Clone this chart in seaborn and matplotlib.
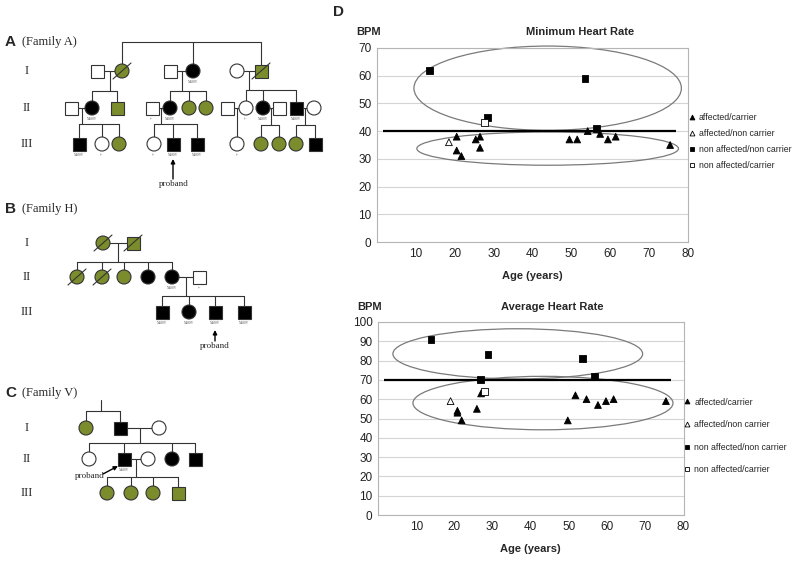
import numpy as np
import pandas as pd
import matplotlib
matplotlib.use("Agg")
import matplotlib.pyplot as plt
import seaborn as sns
from matplotlib.patches import Ellipse, Rectangle, Circle
from matplotlib.lines import Line2D

# ---------------------------
# HEART RATE DATA (panel D)
# ---------------------------
groups = ["affected/carrier", "affected/non carrier",
          "non affected/non carrier", "non affected/carrier"]

min_age_ac = [20.5, 20.5, 21.7, 25.4, 26.5, 26.5, 49.5, 51.5, 54.2, 57.4, 59.4, 61.4, 75.4]
min_bpm_ac = [38, 33, 31, 37, 38, 34, 37, 37, 40, 39, 37, 38, 35]
min_age_anc = [18.5]
min_bpm_anc = [36]
min_age_nanc = [13.5, 28.5, 53.5, 56.5]
min_bpm_nanc = [62, 45, 59, 41]
min_age_nac = [27.6]
min_bpm_nac = [43]

avg_age_ac = [27, 20.8, 20.8, 21.9, 25.9, 49.7, 51.7, 54.6, 57.6, 59.7, 61.7, 75.4]
avg_bpm_ac = [63, 54, 53, 49, 55, 49, 62, 60, 57, 59, 60, 59]
avg_age_anc = [19]
avg_bpm_anc = [59]
avg_age_nanc = [13.9, 28.8, 53.6, 56.6, 26.8]
avg_bpm_nanc = [91, 83, 81, 72, 70]
avg_age_nac = [27.9]
avg_bpm_nac = [64]

min_threshold = 40
avg_threshold = 70
# ellipses (center x, center y, width, height) in data units
min_ellipses = [(43.9, 55.5, 68.8, 30.4), (43.9, 33.7, 67.3, 12.0)]
avg_ellipses = [(36.6, 83.5, 65.4, 26.0), (43.2, 58.0, 68.1, 27.7)]

# ---------------------------
# PEDIGREES (panels A-C)
# person: (x, generation, sex, status, deceased, tag)
# status: n = unaffected, a = affected (black), g = green
# ---------------------------
fam_a_gen_y = {1: 71, 2: 108, 3: 144}
fam_a = {
    "I1": (97, 1, "m", "n", 0, ""), "I2": (122, 1, "f", "g", 1, ""),
    "I3": (170, 1, "m", "n", 0, ""), "I4": (193, 1, "f", "a", 0, "v"),
    "I5": (237, 1, "f", "n", 0, ""), "I6": (261, 1, "m", "g", 1, ""),
    "II1": (71, 2, "m", "n", 0, ""), "II2": (92, 2, "f", "a", 0, "v"),
    "II3": (117, 2, "m", "g", 0, ""), "II4": (152, 2, "m", "n", 0, "-"),
    "II5": (170, 2, "f", "a", 0, "v"), "II6": (189, 2, "f", "g", 0, ""),
    "II7": (206, 2, "f", "g", 0, ""), "II8": (227, 2, "m", "n", 0, ""),
    "II9": (246, 2, "f", "n", 0, "-"), "II10": (263, 2, "f", "a", 0, "v"),
    "II11": (279, 2, "m", "n", 0, ""), "II12": (296, 2, "m", "a", 0, "v"),
    "II13": (314, 2, "f", "n", 0, ""),
    "III1": (79, 3, "m", "a", 0, "v"), "III2": (102, 3, "f", "n", 0, "-"),
    "III3": (119, 3, "f", "g", 0, ""), "III4": (154, 3, "f", "n", 0, "-"),
    "III5": (173, 3, "m", "a", 0, "v"), "III6": (197, 3, "m", "a", 0, "v"),
    "III7": (237, 3, "f", "n", 0, "-"), "III8": (261, 3, "f", "g", 0, ""),
    "III9": (279, 3, "f", "g", 0, ""), "III10": (296, 3, "f", "g", 0, ""),
    "III11": (315, 3, "m", "a", 0, ""),
}
fam_a_marriages = [("I1", "I2"), ("I3", "I4"), ("I5", "I6"), ("II1", "II2"),
                   ("II4", "II5"), ("II8", "II9"), ("II10", "II11"), ("II12", "II13")]
fam_a_sibs = [
    (None, 42, ["I2", "I4", "I6"]),
    (("I1", "I2"), 91, ["II2", "II3"]),
    (("I3", "I4"), 91, ["II5", "II6", "II7"]),
    (("I5", "I6"), 90, ["II9", "II10", "II12"]),
    (("II1", "II2"), 124, ["III1", "III2", "III3"]),
    (("II4", "II5"), 124, ["III4", "III5", "III6"]),
    (("II8", "II9"), 124, ["III7"]),
    (("II10", "II11"), 125, ["III8", "III9"]),
    (("II12", "II13"), 125, ["III10", "III11"]),
]

fam_b_gen_y = {1: 243, 2: 277, 3: 312}
fam_b = {
    "I1": (103, 1, "f", "g", 1, ""), "I2": (133, 1, "m", "g", 1, ""),
    "II1": (77, 2, "f", "g", 1, ""), "II2": (102, 2, "f", "g", 1, ""),
    "II3": (124, 2, "f", "g", 0, ""), "II4": (148, 2, "f", "a", 0, ""),
    "II5": (172, 2, "f", "a", 0, "v"), "II6": (199, 2, "m", "n", 0, "-"),
    "III1": (162, 3, "m", "a", 0, "v"), "III2": (189, 3, "f", "a", 0, "v"),
    "III3": (215, 3, "m", "a", 0, "v"), "III4": (244, 3, "m", "a", 0, "v"),
}
fam_b_marriages = [("I1", "I2"), ("II5", "II6")]
fam_b_sibs = [
    (("I1", "I2"), 262, ["II1", "II2", "II3", "II4", "II5"]),
    (("II5", "II6"), 296, ["III1", "III2", "III3", "III4"]),
]

fam_c_gen_y = {1: 428, 2: 459, 3: 493}
fam_c = {
    "I1": (86, 1, "f", "g", 0, ""), "I2": (120, 1, "m", "a", 0, ""),
    "I3": (159, 1, "f", "n", 0, ""),
    "II1": (89, 2, "f", "n", 0, ""), "II2": (124, 2, "m", "a", 0, "v"),
    "II3": (148, 2, "f", "n", 0, ""), "II4": (172, 2, "f", "a", 0, ""),
    "II5": (195, 2, "m", "a", 0, ""),
    "III1": (107, 3, "f", "g", 0, ""), "III2": (131, 3, "f", "g", 0, ""),
    "III3": (153, 3, "f", "g", 0, ""), "III4": (178, 3, "m", "g", 0, ""),
}
fam_c_marriages = [("I2", "I3"), ("II2", "II3")]
fam_c_sibs = [
    ((101, 400), 411, ["I1", "I2"]),
    (("I2", "I3"), 443, ["II1", "II2", "II4", "II5"]),
    (("II2", "II3"), 477, ["III1", "III2", "III3", "III4"]),
]

families = [
    ("A", "(Family A)", 42, fam_a, fam_a_gen_y, fam_a_marriages, fam_a_sibs),
    ("B", "(Family H)", 209, fam_b, fam_b_gen_y, fam_b_marriages, fam_b_sibs),
    ("C", "(Family V)", 393, fam_c, fam_c_gen_y, fam_c_marriages, fam_c_sibs),
]
# proband arrows: text pos, arrow tail, arrow head
probands = [((174, 184), (173, 179), (173, 159)),
            ((215, 346), (215, 341), (215, 330)),
            ((90, 476), (103, 474), (118, 466))]

GREEN = "#7b8c2c"
LINE = "#333333"
fill_map = {"n": "white", "a": "black", "g": GREEN}
H = 6.5   # half size of symbols


# ---------------------------
# HELPERS
# ---------------------------
def draw_pedigree(ax, people, gen_y, marriages, sibs):
    def pos(pid):
        p = people[pid]
        return p[0], gen_y[p[1]]

    for a, b in marriages:
        (x1, y1), (x2, y2) = pos(a), pos(b)
        ax.plot([x1 + H, x2 - H], [y1, y1], color=LINE, lw=0.8, zorder=1)

    for parents, bar_y, kids in sibs:
        kx = [pos(k)[0] for k in kids]
        if parents is None:
            drop_x = None
        elif isinstance(parents[0], str):
            (x1, y1), (x2, _) = pos(parents[0]), pos(parents[1])
            drop_x = (x1 + x2) / 2
            ax.plot([drop_x, drop_x], [y1, bar_y], color=LINE, lw=0.8, zorder=1)
        else:
            drop_x = parents[0]
            ax.plot([drop_x, drop_x], [parents[1], bar_y], color=LINE, lw=0.8, zorder=1)
        xs = kx + ([drop_x] if drop_x is not None else [])
        ax.plot([min(xs), max(xs)], [bar_y, bar_y], color=LINE, lw=0.8, zorder=1)
        for k in kids:
            x, y = pos(k)
            ax.plot([x, x], [bar_y, y - H], color=LINE, lw=0.8, zorder=1)

    for pid, (x, g, sex, status, dead, tag) in people.items():
        y = gen_y[g]
        fc = fill_map[status]
        if sex == "m":
            ax.add_patch(Rectangle((x - H, y - H), 2 * H, 2 * H, facecolor=fc,
                                   edgecolor=LINE, lw=0.8, zorder=2))
        else:
            ax.add_patch(Circle((x, y), H + 0.5, facecolor=fc,
                                edgecolor=LINE, lw=0.8, zorder=2))
        if dead:
            ax.plot([x - 9, x + 9], [y + 8, y - 8], color=LINE, lw=0.8, zorder=3)
        if tag:
            ax.text(x, y + 11, "N480V" if tag == "v" else "-/-", fontsize=2.5,
                    color="#555555", ha="center", va="center",
                    family=["Liberation Serif", "DejaVu Serif"])


def hr_frame(ages, bpms):
    rows = []
    for grp, a, b in zip(groups, ages, bpms):
        rows += [{"group": grp, "age": x, "bpm": y} for x, y in zip(a, b)]
    return pd.DataFrame(rows)


def draw_hr(ax, df, ymax, threshold, ellipses, title, title_x, legend_y, legend_gap):
    ax.yaxis.grid(True, color="#d4d4d4", lw=0.8)
    ax.set_axisbelow(True)
    sns.scatterplot(data=df, x="age", y="bpm", hue="group", style="group",
                    markers=markers, palette=palette, hue_order=groups,
                    style_order=groups, edgecolor="black", linewidth=0.6,
                    s=24, legend=False, ax=ax, zorder=4)
    ax.hlines(threshold, 1.5, 76.8, color="black", lw=1.6, zorder=3, clip_on=False)
    for cx, cy, w, h in ellipses:
        ax.add_patch(Ellipse((cx, cy), w, h, fill=False, edgecolor="#7a7a7a",
                             lw=0.9, zorder=2, clip_on=False))
    ax.set_xlim(0, 80)
    ax.set_ylim(0, ymax)
    ax.set_xticks(range(10, 81, 10))
    ax.set_yticks(range(0, ymax + 1, 10))
    ax.tick_params(length=0, labelsize=8.5, pad=4, colors="#222222")
    ax.set_xlabel("")
    ax.set_ylabel("")
    for sp in ax.spines.values():
        sp.set_color("#b5b5b5")
        sp.set_linewidth(0.8)
    ax.text(-0.027, 1.08, "BPM", transform=ax.transAxes, ha="center",
            va="center", fontsize=8, fontweight="bold")
    ax.text(title_x, 1.08, title, transform=ax.transAxes, ha="center",
            va="center", fontsize=8, fontweight="bold")
    ax.text(0.5, -0.175, "Age (years)", transform=ax.transAxes, ha="center",
            va="center", fontsize=8, fontweight="bold")
    handles = [Line2D([], [], ls="", marker=markers[g], markersize=3.5,
                      markerfacecolor=palette[g], markeredgecolor="black",
                      mew=0.6, label=g) for g in groups]
    ax.legend(handles=handles, loc="center left", bbox_to_anchor=(0.99, legend_y),
              frameon=False, fontsize=6.3, handlelength=0.8, handletextpad=0.4,
              labelspacing=legend_gap, borderaxespad=0.0)


markers = {groups[0]: "^", groups[1]: "^", groups[2]: "s", groups[3]: "s"}
palette = {groups[0]: "black", groups[1]: "white", groups[2]: "black", groups[3]: "white"}

# ---------------------------
# FIGURE
# ---------------------------
sns.set_style("white")
plt.rcParams["font.family"] = ["Liberation Sans", "DejaVu Sans"]

fig = plt.figure(figsize=(8, 5.62), dpi=100)
ax0 = fig.add_axes([0, 0, 1, 1])
ax0.set_xlim(0, 800)
ax0.set_ylim(562, 0)
ax0.axis("off")

serif = ["Liberation Serif", "DejaVu Serif"]
for letter, fam_name, ty, people, gen_y, marriages, sibs in families:
    ax0.text(5, ty, letter, fontsize=11, fontweight="bold", va="center", ha="left")
    ax0.text(22, ty, fam_name, fontsize=9, va="center", ha="left", family=serif)
    for g, roman in zip([1, 2, 3], ["I", "II", "III"]):
        ax0.text(27, gen_y[g], roman, fontsize=9, va="center", ha="center", family=serif)
    draw_pedigree(ax0, people, gen_y, marriages, sibs)

for (tx, ty), tail, head in probands:
    ax0.annotate("", xy=head, xytext=tail,
                 arrowprops=dict(arrowstyle="-|>", color="black", lw=1.0,
                                 mutation_scale=6, shrinkA=0, shrinkB=0))
    ax0.text(tx, ty, "proband", fontsize=6.5, va="center", ha="center", family=serif)

ax0.text(339, 12, "D", fontsize=11, fontweight="bold", va="center", ha="center")

ax_min = fig.add_axes([377 / 800, 1 - 242 / 562, 311 / 800, 194 / 562])
ax_avg = fig.add_axes([378 / 800, 1 - 515 / 562, 305.5 / 800, 193 / 562])

df_min = hr_frame([min_age_ac, min_age_anc, min_age_nanc, min_age_nac],
                  [min_bpm_ac, min_bpm_anc, min_bpm_nanc, min_bpm_nac])
df_avg = hr_frame([avg_age_ac, avg_age_anc, avg_age_nanc, avg_age_nac],
                  [avg_bpm_ac, avg_bpm_anc, avg_bpm_nanc, avg_bpm_nac])

draw_hr(ax_min, df_min, 70, min_threshold, min_ellipses, "Minimum Heart Rate", 0.653, 0.52, 0.8)
draw_hr(ax_avg, df_avg, 100, avg_threshold, avg_ellipses, "Average Heart Rate", 0.569, 0.41, 1.55)

fig.savefig("out.png", dpi=100)
